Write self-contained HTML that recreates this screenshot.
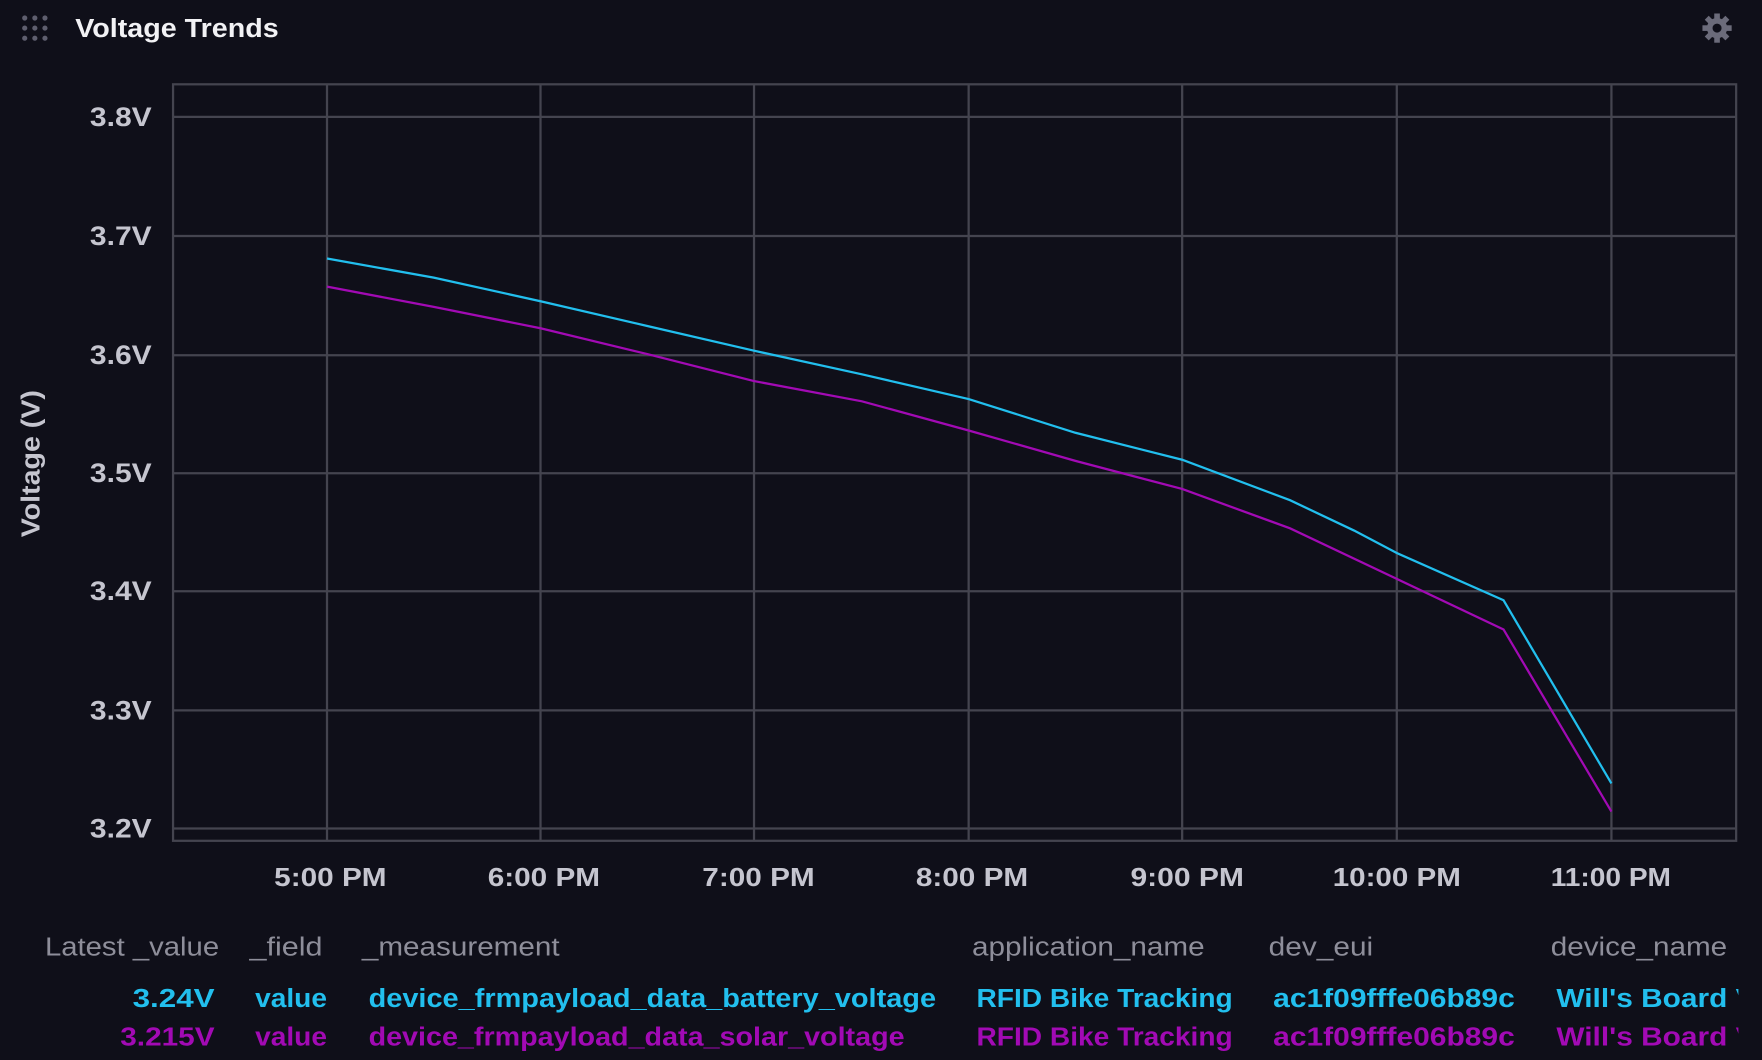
<!DOCTYPE html>
<html><head><meta charset="utf-8"><style>
html,body{margin:0;padding:0;background:#0f0f19;}
svg{display:block;}
text{font-family:"Liberation Sans",sans-serif;}
</style></head><body>
<svg width="1762" height="1060" viewBox="0 0 1568 943" preserveAspectRatio="none" xmlns="http://www.w3.org/2000/svg">
<rect width="1568" height="943" fill="#0f0f19"/>
<g fill="#5e5e6e">
<circle cx="22" cy="16" r="2.3"/><circle cx="31" cy="16" r="2.3"/><circle cx="40" cy="16" r="2.3"/>
<circle cx="22" cy="25" r="2.3"/><circle cx="31" cy="25" r="2.3"/><circle cx="40" cy="25" r="2.3"/>
<circle cx="22" cy="34" r="2.3"/><circle cx="31" cy="34" r="2.3"/><circle cx="40" cy="34" r="2.3"/>
</g>
<text x="67" y="33" font-size="23" font-weight="bold" fill="#f2f2f5" textLength="181" lengthAdjust="spacingAndGlyphs">Voltage Trends</text>
<g transform="translate(1528,25)" fill="#6b6b7a">
<circle r="9"/>
<g fill="#6b6b7a"><rect x="-2.5" y="-13" width="5" height="26"/><rect x="-2.5" y="-13" width="5" height="26" transform="rotate(45)"/><rect x="-2.5" y="-13" width="5" height="26" transform="rotate(90)"/><rect x="-2.5" y="-13" width="5" height="26" transform="rotate(135)"/></g>
<circle r="4" fill="#0f0f19"/>
</g>
<g stroke="#44444f" stroke-width="2" fill="none">
<rect x="154" y="75" width="1391" height="673"/>
<line x1="154" y1="104" x2="1545" y2="104"/>
<line x1="154" y1="210" x2="1545" y2="210"/>
<line x1="154" y1="316" x2="1545" y2="316"/>
<line x1="154" y1="421" x2="1545" y2="421"/>
<line x1="154" y1="526" x2="1545" y2="526"/>
<line x1="154" y1="632" x2="1545" y2="632"/>
<line x1="154" y1="737" x2="1545" y2="737"/>
<line x1="291" y1="75" x2="291" y2="748"/>
<line x1="481" y1="75" x2="481" y2="748"/>
<line x1="671" y1="75" x2="671" y2="748"/>
<line x1="862" y1="75" x2="862" y2="748"/>
<line x1="1052" y1="75" x2="1052" y2="748"/>
<line x1="1243" y1="75" x2="1243" y2="748"/>
<line x1="1434" y1="75" x2="1434" y2="748"/>
</g>
<g font-size="24" font-weight="bold" fill="#c5c5cf">
<text x="80" y="112" textLength="55" lengthAdjust="spacingAndGlyphs">3.8V</text>
<text x="80" y="218" textLength="55" lengthAdjust="spacingAndGlyphs">3.7V</text>
<text x="80" y="324" textLength="55" lengthAdjust="spacingAndGlyphs">3.6V</text>
<text x="80" y="429" textLength="55" lengthAdjust="spacingAndGlyphs">3.5V</text>
<text x="80" y="534" textLength="55" lengthAdjust="spacingAndGlyphs">3.4V</text>
<text x="80" y="640" textLength="55" lengthAdjust="spacingAndGlyphs">3.3V</text>
<text x="80" y="745" textLength="55" lengthAdjust="spacingAndGlyphs">3.2V</text>
</g>
<g font-size="23" font-weight="bold" fill="#c5c5cf">
<text x="244" y="788" textLength="100" lengthAdjust="spacingAndGlyphs">5:00 PM</text>
<text x="434" y="788" textLength="100" lengthAdjust="spacingAndGlyphs">6:00 PM</text>
<text x="625" y="788" textLength="100" lengthAdjust="spacingAndGlyphs">7:00 PM</text>
<text x="815" y="788" textLength="100" lengthAdjust="spacingAndGlyphs">8:00 PM</text>
<text x="1006" y="788" textLength="101" lengthAdjust="spacingAndGlyphs">9:00 PM</text>
<text x="1186" y="788" textLength="114" lengthAdjust="spacingAndGlyphs">10:00 PM</text>
<text x="1380" y="788" textLength="107" lengthAdjust="spacingAndGlyphs">11:00 PM</text>
</g>
<text transform="translate(35,478) rotate(-90)" font-size="23" font-weight="bold" fill="#c5c5cf" textLength="131" lengthAdjust="spacingAndGlyphs">Voltage (V)</text>
<polyline fill="none" stroke="#22bfee" stroke-width="2" points="291,230 386,247 481,268 576,290 671,312 767,333 862,355 957,385 1052,409 1148,445 1205,472 1243,492 1338,534 1434,697"/>
<polyline fill="none" stroke="#a20ab4" stroke-width="2" points="291,255 386,273 481,292 576,315 671,339 767,357 862,383 957,410 1052,435 1148,470 1243,515 1338,560 1434,722"/>
<g font-size="23" fill="#8e8e9a" lengthAdjust="spacingAndGlyphs">
<text x="40" y="850" textLength="155" lengthAdjust="spacingAndGlyphs">Latest _value</text>
<text x="222" y="850" textLength="65" lengthAdjust="spacingAndGlyphs">_field</text>
<text x="322" y="850" textLength="176" lengthAdjust="spacingAndGlyphs">_measurement</text>
<text x="865" y="850" textLength="207" lengthAdjust="spacingAndGlyphs">application_name</text>
<text x="1129" y="850" textLength="93" lengthAdjust="spacingAndGlyphs">dev_eui</text>
<text x="1380" y="850" textLength="157" lengthAdjust="spacingAndGlyphs">device_name</text>
</g>
<clipPath id="c"><rect x="0" y="860" width="1547" height="83"/></clipPath>
<g font-size="23" font-weight="bold" fill="#22bfee" clip-path="url(#c)">
<text x="118" y="896" textLength="73" lengthAdjust="spacingAndGlyphs">3.24V</text>
<text x="227" y="896" textLength="64" lengthAdjust="spacingAndGlyphs">value</text>
<text x="328" y="896" textLength="505" lengthAdjust="spacingAndGlyphs">device_frmpayload_data_battery_voltage</text>
<text x="869" y="896" textLength="228" lengthAdjust="spacingAndGlyphs">RFID Bike Tracking</text>
<text x="1133" y="896" textLength="215" lengthAdjust="spacingAndGlyphs">ac1f09fffe06b89c</text>
<text x="1385" y="896" textLength="192" lengthAdjust="spacingAndGlyphs">Will's Board V1</text>
</g>
<g font-size="23" font-weight="bold" fill="#a20ab4" clip-path="url(#c)">
<text x="107" y="930" textLength="84" lengthAdjust="spacingAndGlyphs">3.215V</text>
<text x="227" y="930" textLength="64" lengthAdjust="spacingAndGlyphs">value</text>
<text x="328" y="930" textLength="477" lengthAdjust="spacingAndGlyphs">device_frmpayload_data_solar_voltage</text>
<text x="869" y="930" textLength="228" lengthAdjust="spacingAndGlyphs">RFID Bike Tracking</text>
<text x="1133" y="930" textLength="215" lengthAdjust="spacingAndGlyphs">ac1f09fffe06b89c</text>
<text x="1385" y="930" textLength="192" lengthAdjust="spacingAndGlyphs">Will's Board V1</text>
</g>
</svg>
</body></html>
